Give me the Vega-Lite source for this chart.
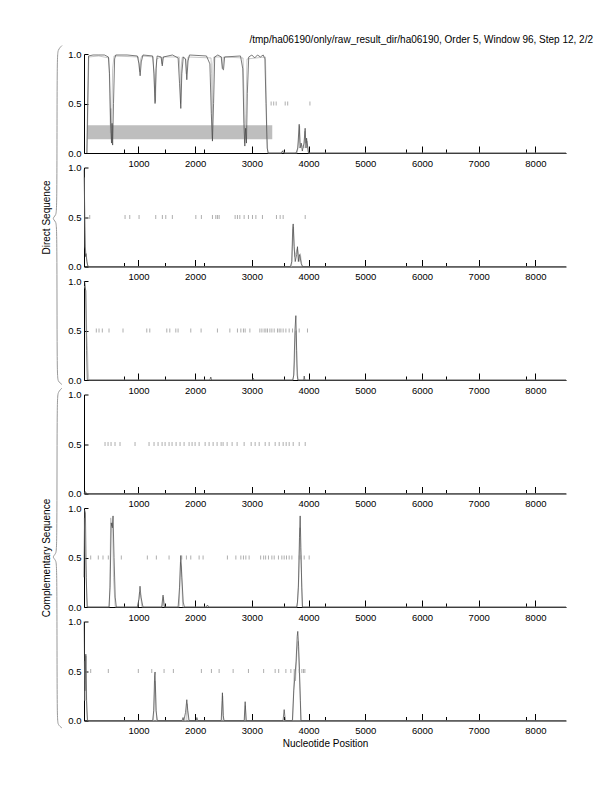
{
"$schema": "https://vega.github.io/schema/vega-lite/v6.json",
"padding": {"left": 41, "top": 34, "right": 5, "bottom": 5},
"background": "white",
"config": {"font": "Liberation Sans", "view": {"stroke": null},
  "axis": {"grid": false, "domainColor": "black", "tickColor": "black", "labelColor": "black", "labelFontSize": 9.5, "titleFontSize": 10, "titleFontWeight": "normal", "titleColor": "black", "labelOverlap": false, "labelFlush": false}},
"title": {"text": "/tmp/ha06190/only/raw_result_dir/ha06190, Order 5, Window 96, Step 12, 2/2", "anchor": "end", "frame": "group", "dx": 27, "offset": -1, "fontSize": 10, "fontWeight": "normal", "color": "black"},
"datasets": {
"lines": [
{"p":1,"s":"g","x":95,"y":0},{"p":1,"s":"g","x":125,"y":0.97},{"p":1,"s":"g","x":300,"y":0.98},{"p":1,"s":"g","x":480,"y":0.96},{"p":1,"s":"g","x":495,"y":0.6},{"p":1,"s":"g","x":505,"y":0.2},{"p":1,"s":"g","x":515,"y":0.45},{"p":1,"s":"g","x":528,"y":0.25},{"p":1,"s":"g","x":545,"y":0.85},{"p":1,"s":"g","x":570,"y":0.98},{"p":1,"s":"g","x":1000,"y":0.97},{"p":1,"s":"g","x":1020,"y":0.82},{"p":1,"s":"g","x":1040,"y":0.95},{"p":1,"s":"g","x":1060,"y":0.98},{"p":1,"s":"g","x":1260,"y":0.97},{"p":1,"s":"g","x":1285,"y":0.6},{"p":1,"s":"g","x":1300,"y":0.52},{"p":1,"s":"g","x":1320,"y":0.95},{"p":1,"s":"g","x":1400,"y":0.97},{"p":1,"s":"g","x":1415,"y":0.9},{"p":1,"s":"g","x":1430,"y":0.97},{"p":1,"s":"g","x":1720,"y":0.97},{"p":1,"s":"g","x":1735,"y":0.8},{"p":1,"s":"g","x":1745,"y":0.5},{"p":1,"s":"g","x":1760,"y":0.92},{"p":1,"s":"g","x":1775,"y":0.97},{"p":1,"s":"g","x":1835,"y":0.95},{"p":1,"s":"g","x":1845,"y":0.8},{"p":1,"s":"g","x":1860,"y":0.9},{"p":1,"s":"g","x":1875,"y":0.97},{"p":1,"s":"g","x":2280,"y":0.96},{"p":1,"s":"g","x":2290,"y":0.8},{"p":1,"s":"g","x":2300,"y":0.15},{"p":1,"s":"g","x":2315,"y":0.9},{"p":1,"s":"g","x":2330,"y":0.97},{"p":1,"s":"g","x":2470,"y":0.97},{"p":1,"s":"g","x":2485,"y":0.86},{"p":1,"s":"g","x":2500,"y":0.97},{"p":1,"s":"g","x":2845,"y":0.96},{"p":1,"s":"g","x":2860,"y":0.6},{"p":1,"s":"g","x":2870,"y":0.1},{"p":1,"s":"g","x":2895,"y":0.4},{"p":1,"s":"g","x":2915,"y":0.95},{"p":1,"s":"g","x":3240,"y":0.97},{"p":1,"s":"g","x":3262,"y":0.3},{"p":1,"s":"g","x":3280,"y":0},{"p":1,"s":"g","x":3530,"y":0},{"p":1,"s":"g","x":3550,"y":0.03},{"p":1,"s":"g","x":3570,"y":0},{"p":1,"s":"g","x":3800,"y":0},{"p":1,"s":"g","x":3820,"y":0.1},{"p":1,"s":"g","x":3842,"y":0.27},{"p":1,"s":"g","x":3855,"y":0.1},{"p":1,"s":"g","x":3920,"y":0.05},{"p":1,"s":"g","x":3935,"y":0.22},{"p":1,"s":"g","x":3950,"y":0.1},{"p":1,"s":"g","x":3975,"y":0.12},{"p":1,"s":"g","x":3995,"y":0},{"p":1,"s":"g","x":8540,"y":0},
{"p":1,"s":"k","x":90,"y":0},{"p":1,"s":"k","x":120,"y":0.98},{"p":1,"s":"k","x":200,"y":0.99},{"p":1,"s":"k","x":300,"y":0.99},{"p":1,"s":"k","x":400,"y":0.99},{"p":1,"s":"k","x":470,"y":0.97},{"p":1,"s":"k","x":490,"y":0.8},{"p":1,"s":"k","x":510,"y":0.3},{"p":1,"s":"k","x":525,"y":0.1},{"p":1,"s":"k","x":535,"y":0.3},{"p":1,"s":"k","x":545,"y":0.08},{"p":1,"s":"k","x":560,"y":0.5},{"p":1,"s":"k","x":580,"y":0.95},{"p":1,"s":"k","x":600,"y":0.99},{"p":1,"s":"k","x":800,"y":0.99},{"p":1,"s":"k","x":980,"y":0.98},{"p":1,"s":"k","x":1010,"y":0.9},{"p":1,"s":"k","x":1030,"y":0.78},{"p":1,"s":"k","x":1050,"y":0.92},{"p":1,"s":"k","x":1080,"y":0.99},{"p":1,"s":"k","x":1250,"y":0.98},{"p":1,"s":"k","x":1275,"y":0.8},{"p":1,"s":"k","x":1293,"y":0.5},{"p":1,"s":"k","x":1310,"y":0.85},{"p":1,"s":"k","x":1330,"y":0.98},{"p":1,"s":"k","x":1400,"y":0.97},{"p":1,"s":"k","x":1420,"y":0.88},{"p":1,"s":"k","x":1440,"y":0.97},{"p":1,"s":"k","x":1600,"y":0.99},{"p":1,"s":"k","x":1700,"y":0.96},{"p":1,"s":"k","x":1725,"y":0.7},{"p":1,"s":"k","x":1747,"y":0.45},{"p":1,"s":"k","x":1765,"y":0.8},{"p":1,"s":"k","x":1790,"y":0.97},{"p":1,"s":"k","x":1830,"y":0.95},{"p":1,"s":"k","x":1853,"y":0.74},{"p":1,"s":"k","x":1875,"y":0.93},{"p":1,"s":"k","x":1900,"y":0.99},{"p":1,"s":"k","x":2200,"y":0.98},{"p":1,"s":"k","x":2260,"y":0.9},{"p":1,"s":"k","x":2285,"y":0.4},{"p":1,"s":"k","x":2305,"y":0.12},{"p":1,"s":"k","x":2325,"y":0.5},{"p":1,"s":"k","x":2345,"y":0.97},{"p":1,"s":"k","x":2400,"y":0.99},{"p":1,"s":"k","x":2460,"y":0.97},{"p":1,"s":"k","x":2480,"y":0.85},{"p":1,"s":"k","x":2500,"y":0.84},{"p":1,"s":"k","x":2520,"y":0.97},{"p":1,"s":"k","x":2800,"y":0.98},{"p":1,"s":"k","x":2840,"y":0.85},{"p":1,"s":"k","x":2860,"y":0.3},{"p":1,"s":"k","x":2876,"y":0.07},{"p":1,"s":"k","x":2890,"y":0.25},{"p":1,"s":"k","x":2905,"y":0.1},{"p":1,"s":"k","x":2920,"y":0.6},{"p":1,"s":"k","x":2945,"y":0.97},{"p":1,"s":"k","x":3000,"y":0.99},{"p":1,"s":"k","x":3050,"y":0.96},{"p":1,"s":"k","x":3100,"y":0.99},{"p":1,"s":"k","x":3150,"y":0.97},{"p":1,"s":"k","x":3200,"y":0.99},{"p":1,"s":"k","x":3230,"y":0.95},{"p":1,"s":"k","x":3250,"y":0.5},{"p":1,"s":"k","x":3270,"y":0.05},{"p":1,"s":"k","x":3290,"y":0},{"p":1,"s":"k","x":3520,"y":0},{"p":1,"s":"k","x":3540,"y":0.02},{"p":1,"s":"k","x":3560,"y":0},{"p":1,"s":"k","x":3780,"y":0},{"p":1,"s":"k","x":3810,"y":0.05},{"p":1,"s":"k","x":3835,"y":0.29},{"p":1,"s":"k","x":3850,"y":0.05},{"p":1,"s":"k","x":3870,"y":0.1},{"p":1,"s":"k","x":3890,"y":0.02},{"p":1,"s":"k","x":3920,"y":0.1},{"p":1,"s":"k","x":3940,"y":0.25},{"p":1,"s":"k","x":3955,"y":0.05},{"p":1,"s":"k","x":3965,"y":0.15},{"p":1,"s":"k","x":3980,"y":0.08},{"p":1,"s":"k","x":4000,"y":0},{"p":1,"s":"k","x":8540,"y":0},
{"p":2,"s":"g","x":45,"y":0.9},{"p":2,"s":"g","x":60,"y":0.2},{"p":2,"s":"g","x":80,"y":0.12},{"p":2,"s":"g","x":100,"y":0.02},{"p":2,"s":"g","x":120,"y":0},{"p":2,"s":"g","x":3700,"y":0},{"p":2,"s":"g","x":3715,"y":0.2},{"p":2,"s":"g","x":3735,"y":0.4},{"p":2,"s":"g","x":3755,"y":0.1},{"p":2,"s":"g","x":3800,"y":0.18},{"p":2,"s":"g","x":3815,"y":0.15},{"p":2,"s":"g","x":3835,"y":0.05},{"p":2,"s":"g","x":3855,"y":0.13},{"p":2,"s":"g","x":3880,"y":0.02},{"p":2,"s":"g","x":3900,"y":0},{"p":2,"s":"g","x":8540,"y":0},
{"p":2,"s":"k","x":42,"y":0.98},{"p":2,"s":"k","x":55,"y":0.4},{"p":2,"s":"k","x":65,"y":0.1},{"p":2,"s":"k","x":75,"y":0.13},{"p":2,"s":"k","x":90,"y":0.05},{"p":2,"s":"k","x":110,"y":0},{"p":2,"s":"k","x":3680,"y":0},{"p":2,"s":"k","x":3705,"y":0.05},{"p":2,"s":"k","x":3720,"y":0.38},{"p":2,"s":"k","x":3729,"y":0.43},{"p":2,"s":"k","x":3745,"y":0.2},{"p":2,"s":"k","x":3765,"y":0.05},{"p":2,"s":"k","x":3790,"y":0.12},{"p":2,"s":"k","x":3805,"y":0.2},{"p":2,"s":"k","x":3820,"y":0.05},{"p":2,"s":"k","x":3840,"y":0.12},{"p":2,"s":"k","x":3850,"y":0.1},{"p":2,"s":"k","x":3870,"y":0.03},{"p":2,"s":"k","x":3893,"y":0},{"p":2,"s":"k","x":8540,"y":0},
{"p":3,"s":"g","x":45,"y":0.95},{"p":3,"s":"g","x":75,"y":0.9},{"p":3,"s":"g","x":88,"y":0.46},{"p":3,"s":"g","x":100,"y":0.35},{"p":3,"s":"g","x":110,"y":0.12},{"p":3,"s":"g","x":125,"y":0},{"p":3,"s":"g","x":3730,"y":0},{"p":3,"s":"g","x":3755,"y":0.2},{"p":3,"s":"g","x":3768,"y":0.45},{"p":3,"s":"g","x":3780,"y":0.5},{"p":3,"s":"g","x":3795,"y":0.15},{"p":3,"s":"g","x":3815,"y":0},{"p":3,"s":"g","x":8540,"y":0},
{"p":3,"s":"k","x":42,"y":1.0},{"p":3,"s":"k","x":55,"y":0.98},{"p":3,"s":"k","x":70,"y":0.9},{"p":3,"s":"k","x":85,"y":0.3},{"p":3,"s":"k","x":98,"y":0},{"p":3,"s":"k","x":2260,"y":0},{"p":3,"s":"k","x":2276,"y":0.03},{"p":3,"s":"k","x":2290,"y":0},{"p":3,"s":"k","x":3010,"y":0},{"p":3,"s":"k","x":3023,"y":0.02},{"p":3,"s":"k","x":3035,"y":0},{"p":3,"s":"k","x":3720,"y":0},{"p":3,"s":"k","x":3740,"y":0.05},{"p":3,"s":"k","x":3760,"y":0.5},{"p":3,"s":"k","x":3776,"y":0.65},{"p":3,"s":"k","x":3790,"y":0.3},{"p":3,"s":"k","x":3800,"y":0.05},{"p":3,"s":"k","x":3812,"y":0},{"p":3,"s":"k","x":3915,"y":0},{"p":3,"s":"k","x":3923,"y":0.04},{"p":3,"s":"k","x":3935,"y":0},{"p":3,"s":"k","x":8540,"y":0},
{"p":4,"s":"g","x":40,"y":0},{"p":4,"s":"g","x":70,"y":0.015},{"p":4,"s":"g","x":95,"y":0},{"p":4,"s":"g","x":8540,"y":0},
{"p":4,"s":"k","x":40,"y":0},{"p":4,"s":"k","x":60,"y":0.02},{"p":4,"s":"k","x":80,"y":0},{"p":4,"s":"k","x":8540,"y":0},
{"p":5,"s":"g","x":45,"y":0.9},{"p":5,"s":"g","x":60,"y":0.55},{"p":5,"s":"g","x":75,"y":0.35},{"p":5,"s":"g","x":90,"y":0.1},{"p":5,"s":"g","x":105,"y":0},{"p":5,"s":"g","x":490,"y":0},{"p":5,"s":"g","x":511,"y":0.9},{"p":5,"s":"g","x":525,"y":0.82},{"p":5,"s":"g","x":545,"y":0.85},{"p":5,"s":"g","x":560,"y":0.3},{"p":5,"s":"g","x":590,"y":0},{"p":5,"s":"g","x":990,"y":0},{"p":5,"s":"g","x":1020,"y":0.15},{"p":5,"s":"g","x":1040,"y":0.12},{"p":5,"s":"g","x":1060,"y":0},{"p":5,"s":"g","x":1420,"y":0},{"p":5,"s":"g","x":1440,"y":0.1},{"p":5,"s":"g","x":1460,"y":0},{"p":5,"s":"g","x":1720,"y":0},{"p":5,"s":"g","x":1740,"y":0.45},{"p":5,"s":"g","x":1760,"y":0.4},{"p":5,"s":"g","x":1780,"y":0},{"p":5,"s":"g","x":3800,"y":0},{"p":5,"s":"g","x":3830,"y":0.3},{"p":5,"s":"g","x":3848,"y":0.8},{"p":5,"s":"g","x":3860,"y":0.55},{"p":5,"s":"g","x":3875,"y":0.35},{"p":5,"s":"g","x":3890,"y":0},{"p":5,"s":"g","x":8540,"y":0},
{"p":5,"s":"k","x":40,"y":0.3},{"p":5,"s":"k","x":50,"y":0.98},{"p":5,"s":"k","x":65,"y":0.95},{"p":5,"s":"k","x":80,"y":0.3},{"p":5,"s":"k","x":95,"y":0},{"p":5,"s":"k","x":480,"y":0},{"p":5,"s":"k","x":500,"y":0.2},{"p":5,"s":"k","x":520,"y":0.85},{"p":5,"s":"k","x":540,"y":0.8},{"p":5,"s":"k","x":552,"y":0.92},{"p":5,"s":"k","x":570,"y":0.5},{"p":5,"s":"k","x":590,"y":0.1},{"p":5,"s":"k","x":610,"y":0},{"p":5,"s":"k","x":980,"y":0},{"p":5,"s":"k","x":1010,"y":0.08},{"p":5,"s":"k","x":1028,"y":0.21},{"p":5,"s":"k","x":1045,"y":0.1},{"p":5,"s":"k","x":1080,"y":0},{"p":5,"s":"k","x":1410,"y":0},{"p":5,"s":"k","x":1434,"y":0.12},{"p":5,"s":"k","x":1455,"y":0},{"p":5,"s":"k","x":1700,"y":0},{"p":5,"s":"k","x":1725,"y":0.2},{"p":5,"s":"k","x":1747,"y":0.52},{"p":5,"s":"k","x":1765,"y":0.3},{"p":5,"s":"k","x":1790,"y":0.05},{"p":5,"s":"k","x":1810,"y":0},{"p":5,"s":"k","x":2200,"y":0},{"p":5,"s":"k","x":2216,"y":0.02},{"p":5,"s":"k","x":2240,"y":0},{"p":5,"s":"k","x":3790,"y":0},{"p":5,"s":"k","x":3805,"y":0.05},{"p":5,"s":"k","x":3820,"y":0.2},{"p":5,"s":"k","x":3840,"y":0.7},{"p":5,"s":"k","x":3852,"y":0.92},{"p":5,"s":"k","x":3865,"y":0.6},{"p":5,"s":"k","x":3880,"y":0.2},{"p":5,"s":"k","x":3893,"y":0},{"p":5,"s":"k","x":8540,"y":0},
{"p":6,"s":"g","x":45,"y":0.6},{"p":6,"s":"g","x":60,"y":0.2},{"p":6,"s":"g","x":75,"y":0.65},{"p":6,"s":"g","x":90,"y":0.1},{"p":6,"s":"g","x":105,"y":0},{"p":6,"s":"g","x":1265,"y":0},{"p":6,"s":"g","x":1290,"y":0.4},{"p":6,"s":"g","x":1300,"y":0.35},{"p":6,"s":"g","x":1320,"y":0},{"p":6,"s":"g","x":1840,"y":0},{"p":6,"s":"g","x":1858,"y":0.17},{"p":6,"s":"g","x":1880,"y":0},{"p":6,"s":"g","x":2470,"y":0},{"p":6,"s":"g","x":2485,"y":0.25},{"p":6,"s":"g","x":2500,"y":0},{"p":6,"s":"g","x":2870,"y":0},{"p":6,"s":"g","x":2885,"y":0.15},{"p":6,"s":"g","x":2900,"y":0},{"p":6,"s":"g","x":3720,"y":0},{"p":6,"s":"g","x":3747,"y":0.52},{"p":6,"s":"g","x":3770,"y":0.4},{"p":6,"s":"g","x":3795,"y":0.7},{"p":6,"s":"g","x":3815,"y":0.8},{"p":6,"s":"g","x":3830,"y":0.6},{"p":6,"s":"g","x":3850,"y":0.3},{"p":6,"s":"g","x":3870,"y":0},{"p":6,"s":"g","x":8540,"y":0},
{"p":6,"s":"k","x":42,"y":1.0},{"p":6,"s":"k","x":55,"y":0.3},{"p":6,"s":"k","x":65,"y":0.5},{"p":6,"s":"k","x":72,"y":0.67},{"p":6,"s":"k","x":85,"y":0.2},{"p":6,"s":"k","x":100,"y":0},{"p":6,"s":"k","x":1250,"y":0},{"p":6,"s":"k","x":1270,"y":0.1},{"p":6,"s":"k","x":1285,"y":0.45},{"p":6,"s":"k","x":1293,"y":0.49},{"p":6,"s":"k","x":1310,"y":0.1},{"p":6,"s":"k","x":1334,"y":0},{"p":6,"s":"k","x":1770,"y":0},{"p":6,"s":"k","x":1787,"y":0.03},{"p":6,"s":"k","x":1800,"y":0},{"p":6,"s":"k","x":1830,"y":0.08},{"p":6,"s":"k","x":1853,"y":0.21},{"p":6,"s":"k","x":1870,"y":0.1},{"p":6,"s":"k","x":1893,"y":0},{"p":6,"s":"k","x":2020,"y":0},{"p":6,"s":"k","x":2030,"y":0.03},{"p":6,"s":"k","x":2045,"y":0},{"p":6,"s":"k","x":2460,"y":0},{"p":6,"s":"k","x":2475,"y":0.2},{"p":6,"s":"k","x":2481,"y":0.28},{"p":6,"s":"k","x":2495,"y":0.05},{"p":6,"s":"k","x":2510,"y":0},{"p":6,"s":"k","x":2865,"y":0},{"p":6,"s":"k","x":2882,"y":0.19},{"p":6,"s":"k","x":2900,"y":0},{"p":6,"s":"k","x":3550,"y":0},{"p":6,"s":"k","x":3570,"y":0.11},{"p":6,"s":"k","x":3590,"y":0},{"p":6,"s":"k","x":3715,"y":0},{"p":6,"s":"k","x":3740,"y":0.3},{"p":6,"s":"k","x":3760,"y":0.45},{"p":6,"s":"k","x":3780,"y":0.6},{"p":6,"s":"k","x":3800,"y":0.85},{"p":6,"s":"k","x":3810,"y":0.9},{"p":6,"s":"k","x":3825,"y":0.75},{"p":6,"s":"k","x":3840,"y":0.5},{"p":6,"s":"k","x":3855,"y":0.2},{"p":6,"s":"k","x":3865,"y":0},{"p":6,"s":"k","x":8540,"y":0}
],
"ticks": [
{"p":1,"x":3340},{"p":1,"x":3385},{"p":1,"x":3429},{"p":1,"x":3588},{"p":1,"x":3632},{"p":1,"x":4024},
{"p":2,"x":141},{"p":2,"x":764},{"p":2,"x":847},{"p":2,"x":1011},{"p":2,"x":1305},{"p":2,"x":1422},{"p":2,"x":1482},{"p":2,"x":1598},{"p":2,"x":2012},{"p":2,"x":2110},{"p":2,"x":2305},{"p":2,"x":2364},{"p":2,"x":2393},{"p":2,"x":2423},{"p":2,"x":2705},{"p":2,"x":2746},{"p":2,"x":2788},{"p":2,"x":2864},{"p":2,"x":2940},{"p":2,"x":3011},{"p":2,"x":3071},{"p":2,"x":3187},{"p":2,"x":3434},{"p":2,"x":3499},{"p":2,"x":3552},{"p":2,"x":3941},
{"p":3,"x":257},{"p":3,"x":305},{"p":3,"x":363},{"p":3,"x":481},{"p":3,"x":728},{"p":3,"x":1147},{"p":3,"x":1200},{"p":3,"x":1500},{"p":3,"x":1553},{"p":3,"x":1659},{"p":3,"x":1699},{"p":3,"x":1923},{"p":3,"x":2105},{"p":3,"x":2393},{"p":3,"x":2612},{"p":3,"x":2746},{"p":3,"x":2806},{"p":3,"x":2852},{"p":3,"x":2882},{"p":3,"x":2965},{"p":3,"x":3141},{"p":3,"x":3177},{"p":3,"x":3217},{"p":3,"x":3247},{"p":3,"x":3276},{"p":3,"x":3318},{"p":3,"x":3353},{"p":3,"x":3394},{"p":3,"x":3452},{"p":3,"x":3482},{"p":3,"x":3512},{"p":3,"x":3552},{"p":3,"x":3600},{"p":3,"x":3658},{"p":3,"x":3717},{"p":3,"x":3835},{"p":3,"x":3981},
{"p":4,"x":411},{"p":4,"x":464},{"p":4,"x":517},{"p":4,"x":587},{"p":4,"x":675},{"p":4,"x":940},{"p":4,"x":1187},{"p":4,"x":1275},{"p":4,"x":1346},{"p":4,"x":1417},{"p":4,"x":1470},{"p":4,"x":1540},{"p":4,"x":1593},{"p":4,"x":1664},{"p":4,"x":1734},{"p":4,"x":1805},{"p":4,"x":1893},{"p":4,"x":1946},{"p":4,"x":1999},{"p":4,"x":2070},{"p":4,"x":2176},{"p":4,"x":2246},{"p":4,"x":2317},{"p":4,"x":2387},{"p":4,"x":2458},{"p":4,"x":2493},{"p":4,"x":2564},{"p":4,"x":2652},{"p":4,"x":2740},{"p":4,"x":2864},{"p":4,"x":2988},{"p":4,"x":3058},{"p":4,"x":3129},{"p":4,"x":3235},{"p":4,"x":3305},{"p":4,"x":3411},{"p":4,"x":3482},{"p":4,"x":3552},{"p":4,"x":3605},{"p":4,"x":3658},{"p":4,"x":3729},{"p":4,"x":3835},{"p":4,"x":3941},
{"p":5,"x":158},{"p":5,"x":292},{"p":5,"x":375},{"p":5,"x":469},{"p":5,"x":698},{"p":5,"x":1157},{"p":5,"x":1316},{"p":5,"x":1540},{"p":5,"x":1764},{"p":5,"x":1846},{"p":5,"x":1923},{"p":5,"x":2070},{"p":5,"x":2140},{"p":5,"x":2569},{"p":5,"x":2718},{"p":5,"x":2806},{"p":5,"x":2852},{"p":5,"x":2894},{"p":5,"x":2952},{"p":5,"x":3155},{"p":5,"x":3208},{"p":5,"x":3243},{"p":5,"x":3293},{"p":5,"x":3353},{"p":5,"x":3394},{"p":5,"x":3469},{"p":5,"x":3529},{"p":5,"x":3570},{"p":5,"x":3611},{"p":5,"x":3658},{"p":5,"x":3706},{"p":5,"x":3835},{"p":5,"x":3865},{"p":5,"x":3923},{"p":5,"x":4011},
{"p":6,"x":158},{"p":6,"x":469},{"p":6,"x":998},{"p":6,"x":1235},{"p":6,"x":1452},{"p":6,"x":1616},{"p":6,"x":2110},{"p":6,"x":2287},{"p":6,"x":2423},{"p":6,"x":2670},{"p":6,"x":2940},{"p":6,"x":3208},{"p":6,"x":3411},{"p":6,"x":3473},{"p":6,"x":3600},{"p":6,"x":3688},{"p":6,"x":3835},{"p":6,"x":3882},{"p":6,"x":3911},{"p":6,"x":3935}
],
"box": [{"x":100,"x2":3360,"y":0.14,"y2":0.28}],
"brace": [
{"b":1,"i":1,"x":-348,"y":2.232},{"b":1,"i":2,"x":-418,"y":2.192},{"b":1,"i":3,"x":-436,"y":2.121},{"b":1,"i":4,"x":-436,"y":0.586},{"b":1,"i":5,"x":-454,"y":0.515},{"b":1,"i":6,"x":-524,"y":0.485},{"b":1,"i":7,"x":-454,"y":0.455},{"b":1,"i":8,"x":-436,"y":0.384},{"b":1,"i":9,"x":-436,"y":-1.101},{"b":1,"i":10,"x":-418,"y":-1.162},{"b":1,"i":11,"x":-348,"y":-1.192},
{"b":2,"i":1,"x":-348,"y":2.212},{"b":2,"i":2,"x":-418,"y":2.172},{"b":2,"i":3,"x":-436,"y":2.101},{"b":2,"i":4,"x":-436,"y":0.606},{"b":2,"i":5,"x":-454,"y":0.535},{"b":2,"i":6,"x":-524,"y":0.505},{"b":2,"i":7,"x":-454,"y":0.475},{"b":2,"i":8,"x":-436,"y":0.404},{"b":2,"i":9,"x":-436,"y":-1.131},{"b":2,"i":10,"x":-418,"y":-1.192},{"b":2,"i":11,"x":-348,"y":-1.222}
]
},
"spacing": 14.5,
"bounds": "flush",
"vconcat": [
{"width": 482, "height": 99, "resolve": {"axis": {"x": "independent"}}, "layer": [
 {"data": {"name": "box"}, "mark": {"type": "rect", "color": "#bebebe"}, "encoding": {"x": {"field": "x", "type": "quantitative", "axis": null}, "x2": {"field": "x2"}, "y": {"field": "y", "type": "quantitative"}, "y2": {"field": "y2"}}},
 {"data": {"name": "lines"}, "transform": [{"filter": "datum.p == 1"}], "mark": {"type": "line", "strokeWidth": 0.7}, "encoding": {"x": {"field": "x", "type": "quantitative", "scale": {"domain": [40, 8540], "nice": false, "zero": false}, "axis": {"orient": "bottom", "title": null, "values": [1000,2000,3000,4000,5000,6000,7000,8000], "format": "d", "tickSize": -7, "labelPadding": 12}}, "y": {"field": "y", "type": "quantitative", "scale": {"domain": [0, 1], "nice": false}, "axis": {"title": null, "values": [0, 0.5, 1], "format": ".1f", "tickSize": -4, "labelPadding": 7}}, "color": {"field": "s", "type": "nominal", "scale": {"domain": ["g", "k"], "range": ["#b0b0b0", "#444444"]}, "legend": null}}},
 {"data": {"name": "ticks"}, "transform": [{"filter": "datum.p == 1"}], "mark": {"type": "tick", "orient": "vertical", "size": 4, "thickness": 1, "color": "#8c8c8c"}, "encoding": {"x": {"field": "x", "type": "quantitative", "axis": {"orient": "bottom", "title": null, "values": [750,1460,2160,3570,4290,5720,6420,7840], "labels": false, "domain": false, "tickSize": -4}}, "y": {"datum": 0.5}}}
]},
{"width": 482, "height": 99, "resolve": {"axis": {"x": "independent"}}, "layer": [
 {"data": {"name": "lines"}, "transform": [{"filter": "datum.p == 2"}], "mark": {"type": "line", "strokeWidth": 0.7}, "encoding": {"x": {"field": "x", "type": "quantitative", "scale": {"domain": [40, 8540], "nice": false, "zero": false}, "axis": {"orient": "bottom", "title": null, "values": [1000,2000,3000,4000,5000,6000,7000,8000], "format": "d", "tickSize": -7, "labelPadding": 12}}, "y": {"field": "y", "type": "quantitative", "scale": {"domain": [0, 1], "nice": false}, "axis": {"title": "Direct Sequence", "titlePadding": 16, "values": [0, 0.5, 1], "format": ".1f", "tickSize": -4, "labelPadding": 7}}, "color": {"field": "s", "type": "nominal", "scale": {"domain": ["g", "k"], "range": ["#b0b0b0", "#444444"]}, "legend": null}}},
 {"data": {"name": "ticks"}, "transform": [{"filter": "datum.p == 2"}], "mark": {"type": "tick", "orient": "vertical", "size": 4, "thickness": 1, "color": "#8c8c8c"}, "encoding": {"x": {"field": "x", "type": "quantitative", "axis": {"orient": "bottom", "title": null, "values": [750,1460,2160,3570,4290,5720,6420,7840], "labels": false, "domain": false, "tickSize": -4}}, "y": {"datum": 0.5}}},
 {"data": {"name": "brace"}, "transform": [{"filter": "datum.b == 1"}], "mark": {"type": "line", "interpolate": "basis", "strokeWidth": 1, "color": "#999999"}, "encoding": {"x": {"field": "x", "type": "quantitative", "axis": null}, "y": {"field": "y", "type": "quantitative"}, "order": {"field": "i"}}}
]},
{"width": 482, "height": 99, "resolve": {"axis": {"x": "independent"}}, "layer": [
 {"data": {"name": "lines"}, "transform": [{"filter": "datum.p == 3"}], "mark": {"type": "line", "strokeWidth": 0.7}, "encoding": {"x": {"field": "x", "type": "quantitative", "scale": {"domain": [40, 8540], "nice": false, "zero": false}, "axis": {"orient": "bottom", "title": null, "values": [1000,2000,3000,4000,5000,6000,7000,8000], "format": "d", "tickSize": -7, "labelPadding": 12}}, "y": {"field": "y", "type": "quantitative", "scale": {"domain": [0, 1], "nice": false}, "axis": {"title": null, "values": [0, 0.5, 1], "format": ".1f", "tickSize": -4, "labelPadding": 7}}, "color": {"field": "s", "type": "nominal", "scale": {"domain": ["g", "k"], "range": ["#b0b0b0", "#444444"]}, "legend": null}}},
 {"data": {"name": "ticks"}, "transform": [{"filter": "datum.p == 3"}], "mark": {"type": "tick", "orient": "vertical", "size": 4, "thickness": 1, "color": "#8c8c8c"}, "encoding": {"x": {"field": "x", "type": "quantitative", "axis": {"orient": "bottom", "title": null, "values": [750,1460,2160,3570,4290,5720,6420,7840], "labels": false, "domain": false, "tickSize": -4}}, "y": {"datum": 0.5}}}
]},
{"width": 482, "height": 99, "resolve": {"axis": {"x": "independent"}}, "layer": [
 {"data": {"name": "lines"}, "transform": [{"filter": "datum.p == 4"}], "mark": {"type": "line", "strokeWidth": 0.7}, "encoding": {"x": {"field": "x", "type": "quantitative", "scale": {"domain": [40, 8540], "nice": false, "zero": false}, "axis": {"orient": "bottom", "title": null, "values": [1000,2000,3000,4000,5000,6000,7000,8000], "format": "d", "tickSize": -7, "labelPadding": 12}}, "y": {"field": "y", "type": "quantitative", "scale": {"domain": [0, 1], "nice": false}, "axis": {"title": null, "values": [0, 0.5, 1], "format": ".1f", "tickSize": -4, "labelPadding": 7}}, "color": {"field": "s", "type": "nominal", "scale": {"domain": ["g", "k"], "range": ["#b0b0b0", "#444444"]}, "legend": null}}},
 {"data": {"name": "ticks"}, "transform": [{"filter": "datum.p == 4"}], "mark": {"type": "tick", "orient": "vertical", "size": 4, "thickness": 1, "color": "#8c8c8c"}, "encoding": {"x": {"field": "x", "type": "quantitative", "axis": {"orient": "bottom", "title": null, "values": [750,1460,2160,3570,4290,5720,6420,7840], "labels": false, "domain": false, "tickSize": -4}}, "y": {"datum": 0.5}}}
]},
{"width": 482, "height": 99, "resolve": {"axis": {"x": "independent"}}, "layer": [
 {"data": {"name": "lines"}, "transform": [{"filter": "datum.p == 5"}], "mark": {"type": "line", "strokeWidth": 0.7}, "encoding": {"x": {"field": "x", "type": "quantitative", "scale": {"domain": [40, 8540], "nice": false, "zero": false}, "axis": {"orient": "bottom", "title": null, "values": [1000,2000,3000,4000,5000,6000,7000,8000], "format": "d", "tickSize": -7, "labelPadding": 12}}, "y": {"field": "y", "type": "quantitative", "scale": {"domain": [0, 1], "nice": false}, "axis": {"title": "Complementary Sequence", "titlePadding": 16, "values": [0, 0.5, 1], "format": ".1f", "tickSize": -4, "labelPadding": 7}}, "color": {"field": "s", "type": "nominal", "scale": {"domain": ["g", "k"], "range": ["#b0b0b0", "#444444"]}, "legend": null}}},
 {"data": {"name": "ticks"}, "transform": [{"filter": "datum.p == 5"}], "mark": {"type": "tick", "orient": "vertical", "size": 4, "thickness": 1, "color": "#8c8c8c"}, "encoding": {"x": {"field": "x", "type": "quantitative", "axis": {"orient": "bottom", "title": null, "values": [750,1460,2160,3570,4290,5720,6420,7840], "labels": false, "domain": false, "tickSize": -4}}, "y": {"datum": 0.5}}},
 {"data": {"name": "brace"}, "transform": [{"filter": "datum.b == 2"}], "mark": {"type": "line", "interpolate": "basis", "strokeWidth": 1, "color": "#999999"}, "encoding": {"x": {"field": "x", "type": "quantitative", "axis": null}, "y": {"field": "y", "type": "quantitative"}, "order": {"field": "i"}}}
]},
{"width": 482, "height": 99, "resolve": {"axis": {"x": "independent"}}, "layer": [
 {"data": {"name": "lines"}, "transform": [{"filter": "datum.p == 6"}], "mark": {"type": "line", "strokeWidth": 0.7}, "encoding": {"x": {"field": "x", "type": "quantitative", "scale": {"domain": [40, 8540], "nice": false, "zero": false}, "axis": {"orient": "bottom", "title": "Nucleotide Position", "titlePadding": 3, "values": [1000,2000,3000,4000,5000,6000,7000,8000], "format": "d", "tickSize": -7, "labelPadding": 12}}, "y": {"field": "y", "type": "quantitative", "scale": {"domain": [0, 1], "nice": false}, "axis": {"title": null, "values": [0, 0.5, 1], "format": ".1f", "tickSize": -4, "labelPadding": 7}}, "color": {"field": "s", "type": "nominal", "scale": {"domain": ["g", "k"], "range": ["#b0b0b0", "#444444"]}, "legend": null}}},
 {"data": {"name": "ticks"}, "transform": [{"filter": "datum.p == 6"}], "mark": {"type": "tick", "orient": "vertical", "size": 4, "thickness": 1, "color": "#8c8c8c"}, "encoding": {"x": {"field": "x", "type": "quantitative", "axis": {"orient": "bottom", "title": null, "values": [750,1460,2160,3570,4290,5720,6420,7840], "labels": false, "domain": false, "tickSize": -4}}, "y": {"datum": 0.5}}}
]}
]
}
